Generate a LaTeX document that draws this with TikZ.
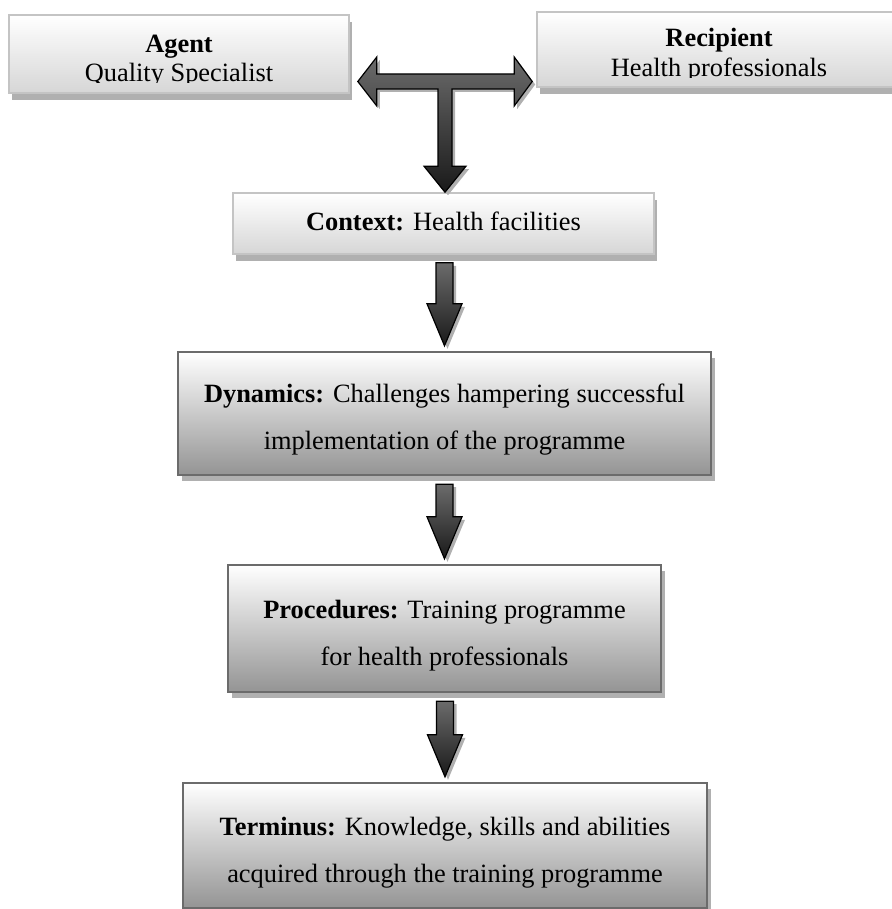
\documentclass[tikz,border=0pt]{standalone}
\usepackage{fontspec}
\setmainfont{Liberation Serif}
\usetikzlibrary{calc,shadows}
\definecolor{lightedge}{HTML}{C4C4C4}
\definecolor{lightbase}{HTML}{D6D6D6}
\definecolor{darkedge}{HTML}{6B6B6B}
\definecolor{darkbase}{HTML}{949494}
\definecolor{boxshade}{HTML}{B0B0B0}

% block arrow from the bottom of #1 down to the top of #2
\newcommand\flowarrow[2]{%
  \path[blockarrow] ($(#2.north |- #1.south)+(-8.5,8)$) -- ($(#2.north)+(-8.5,-47)$)
    -- ($(#2.north)+(-17.5,-47)$) -- ($(#2.north)+(0,-5)$) -- ($(#2.north)+(17.5,-47)$)
    -- ($(#2.north)+(8.5,-47)$) -- ($(#2.north |- #1.south)+(8.5,8)$) -- cycle;}

\begin{document}
\begin{tikzpicture}[x=0.5pt,y=-0.5pt,
  lightbox/.style={draw=lightedge,line width=0.8pt,top color=white,bottom color=lightbase,inner sep=0,
    drop shadow={shadow xshift=1.5pt,shadow yshift=-3.5pt,fill=boxshade,opacity=1}},
  darkbox/.style={draw=darkedge,line width=1.2pt,top color=white,bottom color=darkbase,inner sep=0,
    drop shadow={shadow xshift=2pt,shadow yshift=-3pt,fill=boxshade,opacity=1}},
  txt/.style={font=\fontsize{13.2}{23.5}\selectfont,align=center,inner sep=0},
  blockarrow/.style={draw=black,line width=0.6pt,top color=black!58,bottom color=black!90,
    drop shadow={shadow xshift=1.5pt,shadow yshift=-1.5pt,fill=boxshade,opacity=1}}]
  \useasboundingbox (0,0) rectangle (891,909);

  % agent and recipient
  \node[lightbox,minimum width=170pt,minimum height=39pt] (agent) at (179,54) {};
  \node[lightbox,minimum width=182pt,minimum height=37.5pt] (recipient) at (719,49.5) {};
  \begin{scope}
    \clip (agent.north west) rectangle ($(agent.south east)+(0,-11)$);
    \node[txt,anchor=base] (agentname) at (179,53) {\textbf{Agent}};
    \node[txt,anchor=base] (agentrole) at (179,82) {Quality Specialist};
  \end{scope}
  \begin{scope}
    \clip (recipient.north west) rectangle ($(recipient.south east)+(0,-10)$);
    \node[txt,anchor=base] (recipientname) at (719,47) {\textbf{Recipient}};
    \node[txt,anchor=base] (recipientrole) at (719,77) {Health professionals};
  \end{scope}

  % stages
  \node[lightbox,minimum width=210.5pt,minimum height=30.5pt] (context) at (443.5,223.5) {};
  \node[txt] (contexttext) at ([yshift=1.2pt]context.center) {\textbf{Context:} Health facilities};
  \node[darkbox,minimum width=266.5pt,minimum height=61.5pt] (dynamics) at (444.5,413.5) {};
  \node[txt] (dynamicstext) at ([yshift=-3pt]dynamics.center)
    {\textbf{Dynamics:} Challenges hampering successful\\implementation of the programme};
  \node[darkbox,minimum width=216.5pt,minimum height=63.5pt] (procedures) at (444.5,628.5) {};
  \node[txt] (procedurestext) at ([yshift=-3.5pt]procedures.center)
    {\textbf{Procedures:} Training programme\\for health professionals};
  \node[darkbox,minimum width=262pt,minimum height=62.5pt] (terminus) at (445,845.5) {};
  \node[txt] (terminustext) at ([yshift=-3.5pt]terminus.center)
    {\textbf{Terminus:} Knowledge, skills and abilities\\acquired through the training programme};

  % T arrow between agent, recipient and context
  \coordinate (tbar) at (445,81.5);
  \coordinate (tl) at ($(agent.east |- tbar)+(8,0)$);
  \coordinate (tr) at ($(recipient.west |- tbar)+(-4,0)$);
  \coordinate (tb) at (tbar |- context.north);
  \path[blockarrow] (tl) -- ($(tl)+(19,-24.5)$) -- ($(tl)+(19,-7.5)$) -- ($(tr)+(-18,-7.5)$)
    -- ($(tr)+(-18,-24.5)$) -- (tr) -- ($(tr)+(-18,24.5)$) -- ($(tr)+(-18,7.5)$)
    -- ($(tbar)+(7,7.5)$) -- ($(tb)+(7,-26)$) -- ($(tb)+(21,-26)$) -- (tb)
    -- ($(tb)+(-21,-26)$) -- ($(tb)+(-7,-26)$) -- ($(tbar)+(-7,7.5)$)
    -- ($(tl)+(19,7.5)$) -- ($(tl)+(19,24.5)$) -- cycle;

  \flowarrow{context}{dynamics}
  \flowarrow{dynamics}{procedures}
  \flowarrow{procedures}{terminus}
\end{tikzpicture}
\end{document}
